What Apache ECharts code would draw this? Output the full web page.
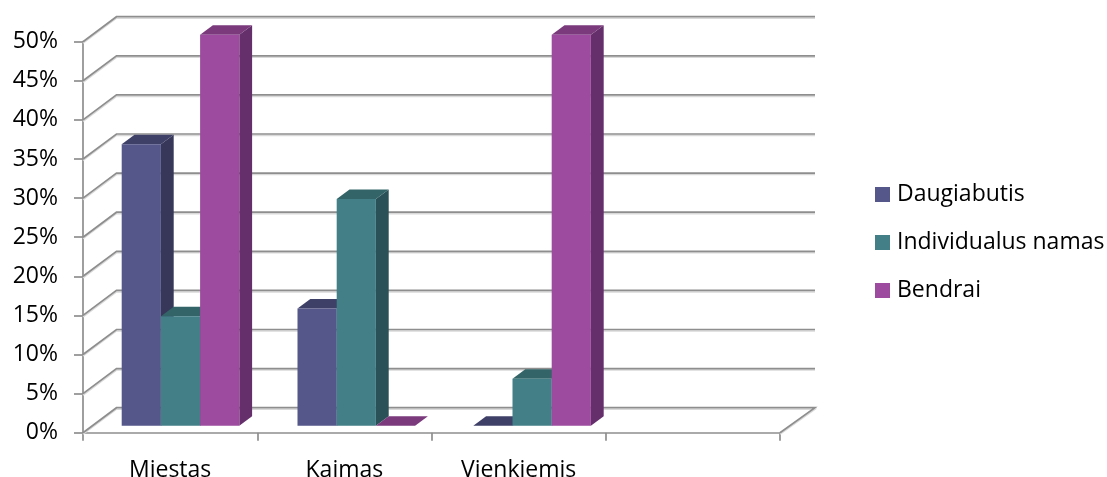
<!DOCTYPE html>
<html>
<head>
<meta charset="utf-8">
<style>html,body{margin:0;padding:0;background:#fff}#chart{width:1107px;height:477px}</style>
<script src="https://cdn.jsdelivr.net/npm/echarts@6/dist/echarts.min.js"></script>
</head>
<body>
<div id="chart"></div>
<script>
// Housing type by settlement, share of respondents (%)
const categories = ['Miestas', 'Kaimas', 'Vienkiemis', ''];
const daugiabutis = [36, 15, 0];
const individualus = [14, 29, 6];
const bendrai = [50, 0, 50];
const gridValues = [0, 5, 10, 15, 20, 25, 30, 35, 40, 45, 50];

// Oblique projection used for the pseudo-3D look
const WALL_DX = 33.5, WALL_DY = -25;   // front plane to back wall
const BAR_DX = 9.6, BAR_DY = -7;       // front plane to bar front face
const DEPTH_DX = 12.8, DEPTH_DY = -9.5; // thickness of a bar
const BAR_SHARE = 39.2 / 174.25;       // bar width relative to a category band
const BAR_SPREAD = 1.0089;             // mid-depth plane is slightly wider than the front

const palette = {
  Daugiabutis: { front: '#55568a', side: '#363759', top: '#3f4068' },
  'Individualus namas': { front: '#437f87', side: '#2a5157', top: '#336468' },
  Bendrai: { front: '#9d4b9e', side: '#652f6b', top: '#7a3a7c' }
};

const FONT = 'Open Sans';
const FONT_SIZE = 23;

function poly(points, fill) {
  return { type: 'polygon', shape: { points }, style: { fill, stroke: null } };
}

function barRenderer(colors, slot) {
  return function (params, api) {
    const rect = params.coordSys;
    const band = api.size([1, 0])[0];
    const w = band * BAR_SHARE;
    const centre = api.coord([api.value(0), 0]);
    const top = api.coord([api.value(0), api.value(1)]);
    const mid = rect.x + (centre[0] - rect.x) * BAR_SPREAD;
    const x0 = mid + BAR_DX + (slot - 1.5) * w;
    const x1 = x0 + w;
    const yb = centre[1] + BAR_DY;
    const yt = top[1] + BAR_DY;
    const dx = DEPTH_DX, dy = DEPTH_DY;
    return {
      type: 'group',
      children: [
        poly([[x1, yb], [x1 + dx, yb + dy], [x1 + dx, yt + dy], [x1, yt]], colors.side),
        poly([[x0, yt], [x1, yt], [x1 + dx, yt + dy], [x0 + dx, yt + dy]], colors.top),
        { type: 'rect', shape: { x: x0, y: yt, width: w, height: yb - yt }, style: { fill: colors.front } }
      ]
    };
  };
}

function wallRenderer(params, api) {
  const rect = params.coordSys;
  const y = api.coord([0, api.value(0)])[1];
  const left = rect.x, right = rect.x + rect.width;
  const pts = [[left, y], [left + WALL_DX, y + WALL_DY], [right + WALL_DX + 1.5, y + WALL_DY]];
  if (api.value(0) === 0) pts.push([right, y]);
  const shade = pts.map(p => [p[0], p[1] + 1.5]);
  return {
    type: 'group',
    children: [
      { type: 'polyline', shape: { points: shade }, style: { stroke: '#d9d9d9', lineWidth: 1.5, fill: null } },
      { type: 'polyline', shape: { points: pts }, style: { stroke: '#8e8e8e', lineWidth: 1.7, fill: null } }
    ]
  };
}

function barSeries(name, values, slot) {
  return {
    name,
    type: 'custom',
    renderItem: barRenderer(palette[name], slot),
    itemStyle: { color: palette[name].front },
    encode: { x: 0, y: 1 },
    data: values.map((v, i) => [i, v]),
    z: 3 + slot,
    clip: false,
    silent: true
  };
}

const chart = echarts.init(document.getElementById('chart'), null, { renderer: 'canvas' });
chart.setOption({
  animation: false,
  backgroundColor: '#fff',
  textStyle: { fontFamily: FONT },
  grid: { left: 83, top: 41.7, width: 697, height: 391, containLabel: false, outerBoundsMode: 'none' },
  legend: {
    left: 875,
    top: 180,
    orient: 'vertical',
    icon: 'rect',
    itemWidth: 15,
    itemHeight: 15,
    itemGap: 19,
    padding: 0,
    textStyle: { fontFamily: FONT, fontSize: FONT_SIZE, color: '#000', lineHeight: 29, padding: [0, 0, 0, 2] },
    data: ['Daugiabutis', 'Individualus namas', 'Bendrai'],
    selectedMode: false
  },
  xAxis: {
    type: 'category',
    data: categories,
    axisLine: { lineStyle: { color: '#8e8e8e', width: 1.7 } },
    axisTick: { show: true, length: 8, lineStyle: { color: '#8e8e8e', width: 1.7 } },
    axisLabel: { fontFamily: FONT, fontSize: FONT_SIZE, color: '#000', margin: 26, interval: 0 },
    splitLine: { show: false }
  },
  yAxis: {
    type: 'value',
    min: 0,
    max: 50,
    interval: 5,
    axisLine: { show: true, lineStyle: { color: '#8e8e8e', width: 1.7 } },
    axisTick: { show: true, length: 9, lineStyle: { color: '#8e8e8e', width: 1.7 } },
    axisLabel: { fontFamily: FONT, fontSize: FONT_SIZE, color: '#000', margin: 25, formatter: '{value}%' },
    splitLine: { show: false }
  },
  series: [
    {
      type: 'custom',
      renderItem: wallRenderer,
      encode: { y: 0 },
      data: gridValues.map(v => [v]),
      z: 1,
      clip: false,
      silent: true
    },
    barSeries('Daugiabutis', daugiabutis, 0),
    barSeries('Individualus namas', individualus, 1),
    barSeries('Bendrai', bendrai, 2)
  ]
});
</script>
</body>
</html>
